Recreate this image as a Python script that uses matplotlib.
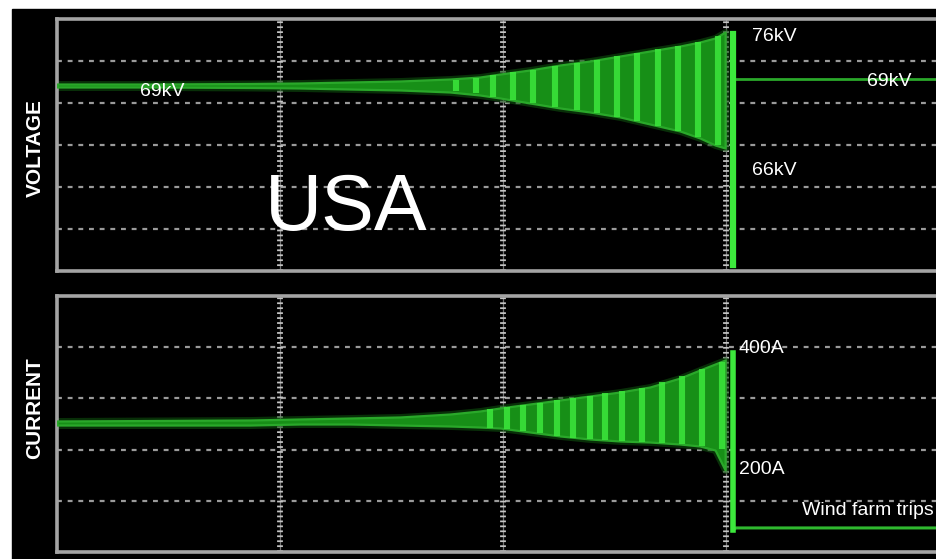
import matplotlib.pyplot as plt
from matplotlib.patches import Rectangle

plt.rcParams['font.family'] = ['Liberation Sans', 'DejaVu Sans']

# time axis in screen divisions (vertical grid every 1 div)
env_t = [0, 0.417, 0.865, 1.090, 1.314, 1.538, 1.762, 1.897, 1.987,
         2.121, 2.256, 2.390, 2.525, 2.659, 2.794, 2.883, 2.951, 2.996]

# voltage trace envelope (divisions, 6 div tall screen)
volt_hi = [4.452, 4.452, 4.464, 4.476, 4.500, 4.524, 4.571, 4.619, 4.690,
           4.786, 4.905, 5.000, 5.119, 5.238, 5.357, 5.452, 5.548, 5.690]
volt_lo = [4.381, 4.381, 4.369, 4.357, 4.333, 4.310, 4.262, 4.190, 4.119,
           4.000, 3.881, 3.786, 3.667, 3.500, 3.333, 3.167, 3.000, 2.929]

# bright oscillation strokes in the voltage band
volt_osc_t = [1.789, 1.879, 1.955, 2.045, 2.135, 2.233, 2.332, 2.422,
              2.511, 2.601, 2.695, 2.785, 2.874, 2.964]
volt_osc_hi = [4.548, 4.595, 4.667, 4.738, 4.786, 4.881, 4.952, 5.024,
               5.119, 5.190, 5.286, 5.357, 5.452, 5.595]
volt_osc_lo = [4.286, 4.238, 4.143, 4.071, 4.000, 3.905, 3.833, 3.762,
               3.667, 3.571, 3.452, 3.333, 3.190, 3.000]

# trip: collapse and recovery of voltage
volt_trip_t = [3.031, 3.031]
volt_trip_v = [5.65, 0.14]
volt_after_t = [3.031, 3.08, 4.0]
volt_after_v = [4.56, 4.56, 4.56]

# current trace envelope (divisions, 5 div tall screen)
amp_hi = [2.559, 2.568, 2.578, 2.598, 2.617, 2.637, 2.695, 2.754, 2.813,
          2.891, 2.969, 3.047, 3.125, 3.223, 3.398, 3.555, 3.672, 3.750]
amp_lo = [2.480, 2.480, 2.480, 2.500, 2.500, 2.480, 2.461, 2.441, 2.422,
          2.344, 2.266, 2.207, 2.168, 2.148, 2.109, 2.070, 1.992, 1.602]

amp_osc_t = [1.942, 2.018, 2.090, 2.166, 2.242, 2.314, 2.390, 2.457,
             2.534, 2.623, 2.713, 2.803, 2.892, 2.982]
amp_osc_hi = [2.793, 2.832, 2.871, 2.910, 2.969, 3.008, 3.047, 3.105,
              3.145, 3.203, 3.320, 3.438, 3.574, 3.711]
amp_osc_lo = [2.422, 2.402, 2.363, 2.324, 2.266, 2.227, 2.207, 2.188,
              2.168, 2.148, 2.129, 2.109, 2.070, 2.012]

amp_trip_t = [3.031, 3.031]
amp_trip_v = [3.887, 0.43]
amp_after_t = [3.031, 3.045, 4.0]
amp_after_v = [0.43, 0.47, 0.47]

GREEN = '#3ce83c'
BAND = '#178f17'
DIM = '#2aa82a'
GRID = '#9a9a9a'


def scope_axes(rect, n_rows):
    ax = fig.add_axes(rect)
    ax.set_facecolor('black')
    ax.set_xlim(0, 4)
    ax.set_ylim(0, n_rows)
    ax.set_xticks([])
    ax.set_yticks([])
    for s in ax.spines.values():
        s.set_color('#a4a4a4')
        s.set_linewidth(2.6)
    # dashed horizontal graticule
    for k in range(1, n_rows):
        ax.axhline(k, color=GRID, lw=1.6, dashes=(2.2, 2.6), zorder=1)
    # ruler-style vertical graticule
    for k in range(1, 4):
        ax.axvline(k, color='#bdbdbd', lw=0.9, alpha=0.6, zorder=1)
        ax.axvline(k, color='#c4c4c4', lw=4.2, dashes=(0.3, 0.55), zorder=1)
    return ax


def trace(ax, lo, hi, osc_t, osc_lo, osc_hi):
    # soft glow, band, then the bright oscillation strokes
    ax.fill_between(env_t, lo, hi, color='#1a7a1a', lw=5, edgecolor='#0f4f0f',
                    alpha=0.6, zorder=2)
    ax.fill_between(env_t, lo, hi, color=BAND, lw=1.6, edgecolor=DIM, zorder=3)
    ax.vlines(osc_t, osc_lo, osc_hi, color=GREEN, lw=4.4, alpha=0.85, zorder=4)


fig = plt.figure(figsize=(9.36, 5.59), dpi=100, facecolor='white')
fig.add_artist(Rectangle((12 / 936, 0), 1, 1 - 9 / 559,
                         transform=fig.transFigure, color='black', zorder=-10))

ax_v = scope_axes([57 / 936, 1 - 271 / 559, 892 / 936, 252 / 559], 6)
ax_i = scope_axes([57 / 936, 1 - 552 / 559, 892 / 936, 256 / 559], 5)

# voltage trace
trace(ax_v, volt_lo, volt_hi, volt_osc_t, volt_osc_lo, volt_osc_hi)
ax_v.plot(volt_trip_t, volt_trip_v, color=GREEN, lw=4.5, zorder=5)
ax_v.plot(volt_after_t, volt_after_v, color=DIM, lw=2, zorder=3)

# current trace
trace(ax_i, amp_lo, amp_hi, amp_osc_t, amp_osc_lo, amp_osc_hi)
ax_i.plot(amp_trip_t, amp_trip_v, color=GREEN, lw=4, zorder=5)
ax_i.plot(amp_after_t, amp_after_v, color='#2fb82f', lw=2.2, zorder=3)

# annotations
lab = dict(color='white', fontsize=14, va='center', ha='left', zorder=6)
ax_v.text(0.372, 4.262, '69kV', **lab)
ax_v.text(3.117, 5.595, '76kV', **lab)
ax_v.text(3.632, 4.50, '69kV', **lab)
ax_v.text(3.117, 2.381, '66kV', **lab)
ax_v.text(0.933, 0.976, 'USA', color='white', fontsize=57, va='baseline',
          ha='left', zorder=6)

ax_i.text(3.058, 3.965, '400A', **lab)
ax_i.text(3.058, 1.602, '200A', **lab)
ax_i.text(3.341, 0.820, 'Wind farm trips', **lab)

fig.text(35 / 936, 1 - 148 / 559, 'VOLTAGE', color='white', fontsize=15,
         fontweight='bold', rotation=90, ha='center', va='center')
fig.text(35 / 936, 1 - 408 / 559, 'CURRENT', color='white', fontsize=15,
         fontweight='bold', rotation=90, ha='center', va='center')

fig.savefig('out.png', dpi=100, facecolor=fig.get_facecolor())
